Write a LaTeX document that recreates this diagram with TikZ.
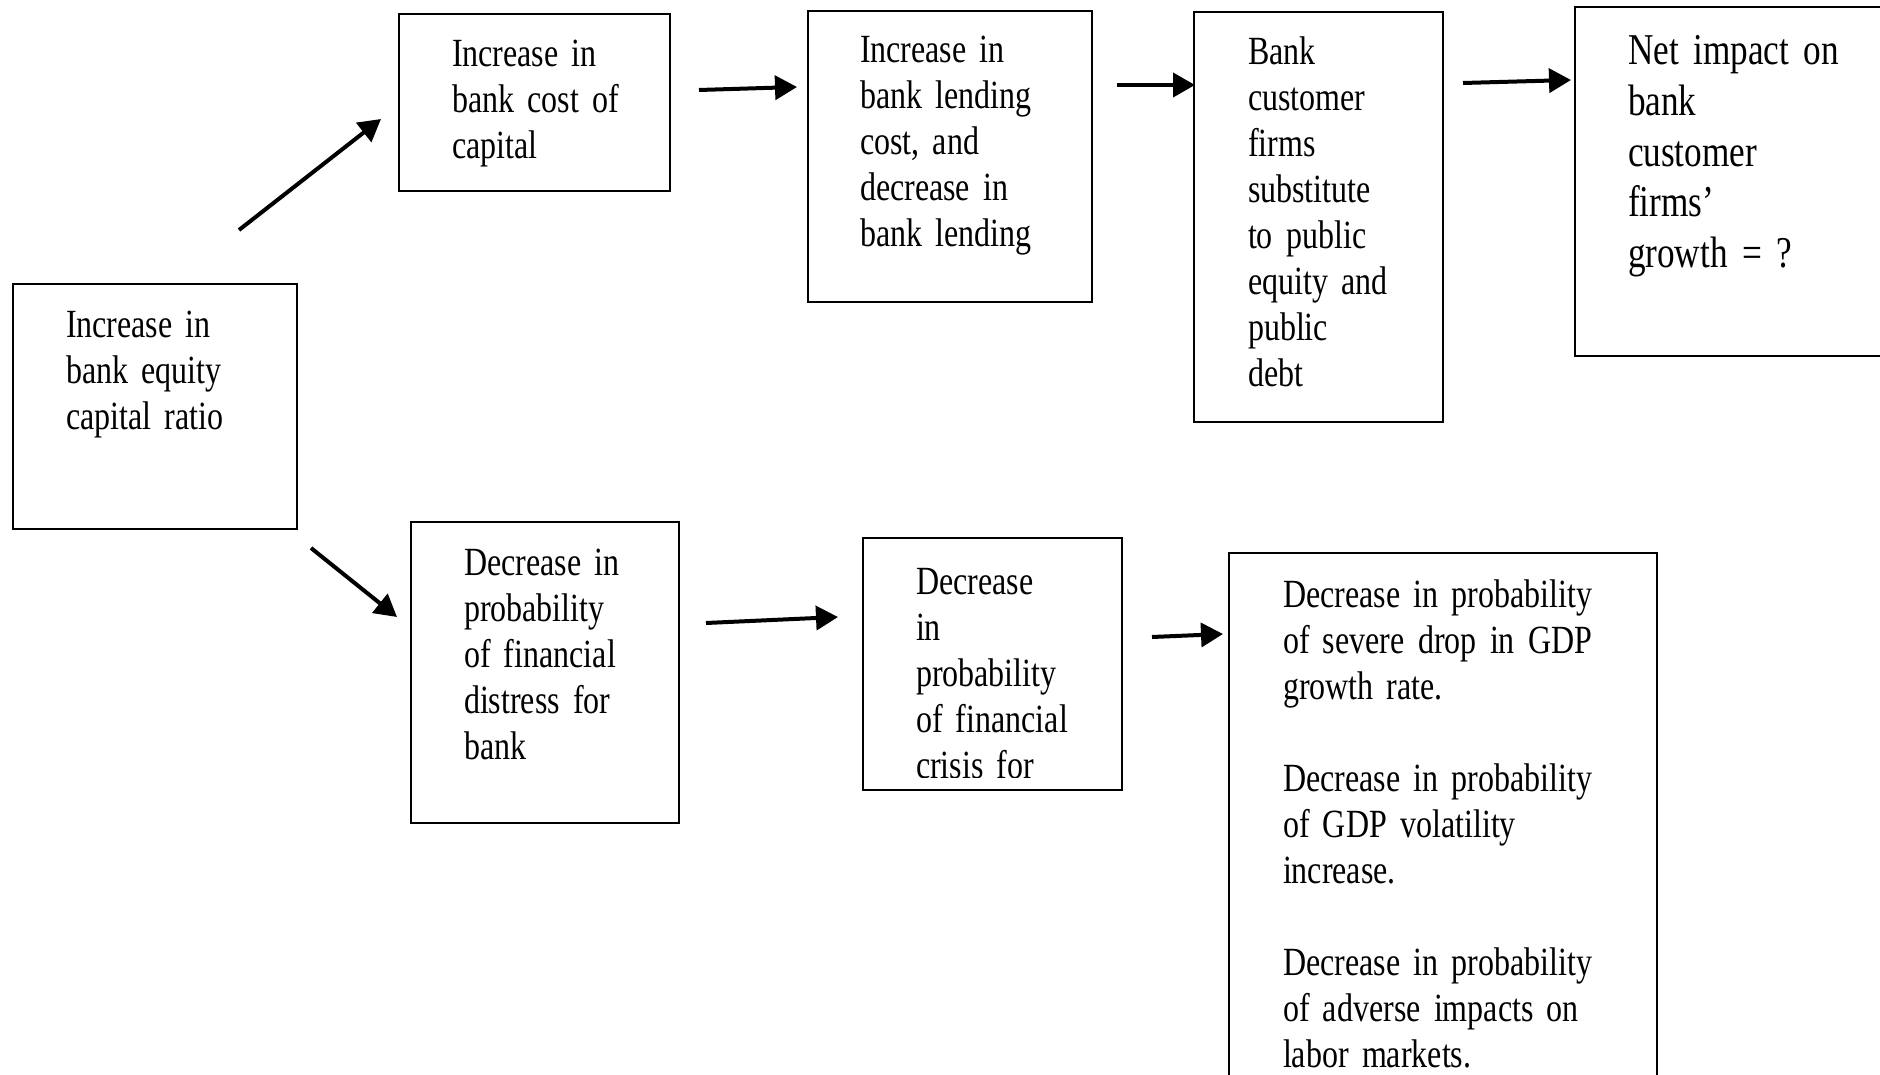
\documentclass[tikz,border=0pt]{standalone}
\usepackage{fontspec}
\setmainfont{Liberation Serif}[FakeStretch=0.8]
\usetikzlibrary{arrows.meta}
\newcommand\mytxtfont{\fontsize{20}{23}\selectfont}
\newcommand\mybigfont{\fontsize{22}{25.3}\selectfont}
\tikzset{
  box/.style={draw, line width=0.9pt, anchor=north west, inner sep=0pt, outer sep=0pt},
  txt/.style={anchor=base west, inner sep=0pt, outer sep=0pt, align=left, text width=230pt, font=\mytxtfont},
  bigtxt/.style={txt, font=\mybigfont},
  arr/.style={line width=2pt, -{Triangle[length=11pt,width=12pt]}},
}
\begin{document}
\begin{tikzpicture}[x=0.5pt,y=-0.5pt]
\useasboundingbox (0,0) rectangle (1880,1075);
\fill[white] (0,0) rectangle (1880,1075);
\clip (0,0) rectangle (1880,1075);

% boxes
\node[box, minimum width=142pt, minimum height=122.5pt] (A) at (13,284) {};
\node[box, minimum width=135.5pt, minimum height=88.5pt] (B) at (399,14) {};
\node[box, minimum width=142pt, minimum height=145.5pt] (C) at (808,11) {};
\node[box, minimum width=124.5pt, minimum height=205pt] (D) at (1194,12) {};
\node[box, minimum width=162.5pt, minimum height=174.5pt] (E) at (1575,7) {};
\node[box, minimum width=134pt, minimum height=150.5pt] (F) at (411,522) {};
\node[box, minimum width=129.5pt, minimum height=126pt] (G) at (863,538) {};
\node[box, minimum width=214pt, minimum height=273.5pt] (H) at (1229,553) {};

% texts
\node[txt] (tA) at (66,337.5) {Increase in\\bank equity\\capital ratio};
\node[txt] (tB) at (452,67) {Increase in\\bank cost of\\capital};
\node[txt] (tC) at (860,63) {Increase in\\bank lending\\cost, and\\decrease in\\bank lending};
\node[txt] (tD) at (1248,65) {Bank\\customer\\firms\\substitute\\to public\\equity and\\public\\debt};
\node[bigtxt] (tE) at (1628,65) {Net impact on\\bank\\customer\\firms’\\growth = ?};
\node[txt] (tF) at (464,575) {Decrease in\\probability\\of financial\\distress for\\bank};
\begin{scope}
\clip (863,538) rectangle (1122,777);
\node[txt] (tG) at (916,594) {Decrease\\in\\probability\\of financial\\crisis for};
\end{scope}
\node[txt] (tH) at (1283,607) {Decrease in probability\\of severe drop in GDP\\growth rate.\\[23pt]Decrease in probability\\of GDP volatility\\increase.\\[23pt]Decrease in probability\\of adverse impacts on\\labor markets.};

% arrow end points
\coordinate (ab1) at (239,230);
\coordinate (ab2) at (381,119);
\coordinate (bc1) at (699,90);
\coordinate (bc2) at (797,87);
\coordinate (cd1) at (1117,85);
\coordinate (cd2) at (1195,85);
\coordinate (de1) at (1463,83);
\coordinate (de2) at (1571,80);
\coordinate (af1) at (311,548);
\coordinate (af2) at (397,617);
\coordinate (fg1) at (706,623);
\coordinate (fg2) at (838,617);
\coordinate (gh1) at (1152,637);
\coordinate (gh2) at (1223,634);

\draw[arr] (ab1) -- (ab2);
\draw[arr] (bc1) -- (bc2);
\draw[arr] (cd1) -- (cd2);
\draw[arr] (de1) -- (de2);
\draw[arr] (af1) -- (af2);
\draw[arr] (fg1) -- (fg2);
\draw[arr] (gh1) -- (gh2);
\end{tikzpicture}
\end{document}
